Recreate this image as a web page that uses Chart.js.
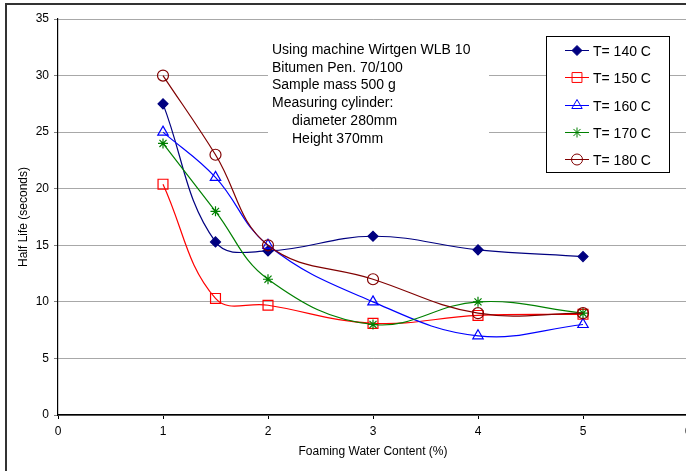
<!DOCTYPE html>
<html>
<head>
<meta charset="utf-8">
<script src="https://cdn.jsdelivr.net/npm/chart.js@4.4.1/dist/chart.umd.min.js"></script>
<style>
  html, body { margin: 0; padding: 0; background: #fff; overflow: hidden; }
  #wrap { position: relative; width: 686px; height: 471px; overflow: hidden; }
  #myChart { position: absolute; left: 0; top: 0; }
  #frame { position: absolute; left: 5px; top: 3px; width: 800px; height: 600px;
           border-left: 2px solid #333; border-top: 2px solid #333; pointer-events: none; }
</style>
</head>
<body>
<div id="wrap">
  <canvas id="myChart" width="720" height="471"></canvas>
  <div id="frame"></div>
</div>
<script>
// data
var waterContent = [1, 1.5, 2, 3, 4, 5];
var seriesNames = ['T= 140 C', 'T= 150 C', 'T= 160 C', 'T= 170 C', 'T= 180 C'];
var halfLife140 = [27.5, 15.3, 14.5, 15.8, 14.6, 14.0];
var halfLife150 = [20.4, 10.3, 9.7, 8.1, 8.8, 8.9];
var halfLife160 = [25, 21, 15, 10, 7, 8];
var halfLife170 = [24, 18, 12, 8, 10, 9];
var halfLife180 = [30, 23, 15, 12, 9, 9];
var xTicks = [0, 1, 2, 3, 4, 5, 6];
var yTicks = [0, 5, 10, 15, 20, 25, 30, 35];
var noteLines = ['Using machine Wirtgen WLB 10', 'Bitumen Pen. 70/100', 'Sample mass 500 g',
                 'Measuring cylinder:', '     diameter 280mm', '     Height 370mm'];

var FONT = '"Liberation Sans", Arial, sans-serif';
var colors = ['#000080', '#ff0000', '#0000ff', '#008000', '#800000'];
var styles = ['rectRot', 'rect', 'triangle', 'star', 'circle'];
var radii = [5, 7, 6, 5, 5.5];
var allValues = [halfLife140, halfLife150, halfLife160, halfLife170, halfLife180];

function toPoints(values) {
    var pts = [];
    for (var i = 0; i < values.length; ++i) {
        pts.push({ x: waterContent[i], y: values[i] });
    }
    return pts;
}

var datasets = [];
for (var s = 0; s < seriesNames.length; ++s) {
    datasets.push({
        label: seriesNames[s],
        data: toPoints(allValues[s]),
        borderColor: colors[s],
        backgroundColor: s === 0 ? colors[s] : 'rgba(0,0,0,0)',
        borderWidth: 1.2,
        pointStyle: styles[s],
        pointRadius: radii[s],
        pointBorderWidth: 1.2,
        pointBorderColor: colors[s],
        pointBackgroundColor: s === 0 ? colors[s] : 'rgba(0,0,0,0)',
        tension: 0.4,
        fill: false,
        order: seriesNames.length - s
    });
}

// white box behind the note text
var noteBox = {
    id: 'noteBox',
    beforeDatasetsDraw: function(chart) {
        var ctx = chart.ctx;
        ctx.save();
        ctx.fillStyle = '#fff';
        ctx.fillRect(268, 36, 221, 114);
        ctx.fillStyle = '#000';
        ctx.font = '14px ' + FONT;
        ctx.textBaseline = 'alphabetic';
        for (var i = 0; i < noteLines.length; ++i) {
            var txt = noteLines[i];
            var x = 272;
            if (txt.indexOf('     ') === 0) { x = 292; txt = txt.trim(); }
            ctx.fillText(txt, x, 54 + i * 17.7);
        }
        ctx.restore();
    }
};

// legend box inside the plot
var boxLegend = {
    id: 'boxLegend',
    afterDatasetsDraw: function(chart) {
        var ctx = chart.ctx;
        ctx.save();
        ctx.fillStyle = '#fff';
        ctx.fillRect(546.5, 36.5, 123, 136);
        ctx.strokeStyle = '#000';
        ctx.lineWidth = 1;
        ctx.strokeRect(546.5, 36.5, 123, 136);
        var ds = chart.data.datasets;
        for (var i = 0; i < ds.length; ++i) {
            var y = Math.round(50 + i * 27.3) + 0.5;
            ctx.strokeStyle = ds[i].borderColor;
            ctx.lineWidth = 1;
            ctx.beginPath();
            ctx.moveTo(565, y);
            ctx.lineTo(589, y);
            ctx.stroke();
            ctx.fillStyle = ds[i].pointBackgroundColor;
            Chart.helpers.drawPoint(ctx, {
                pointStyle: ds[i].pointStyle,
                radius: ds[i].pointRadius,
                rotation: 0,
                borderWidth: 1
            }, 577, y);
            ctx.fillStyle = '#000';
            ctx.font = '14px ' + FONT;
            ctx.textBaseline = 'alphabetic';
            ctx.fillText(ds[i].label, 593, y + 5);
        }
        ctx.restore();
    }
};

var ctx = document.getElementById('myChart');
var myChart = new Chart(ctx, {
    type: 'line',
    data: { datasets: datasets },
    options: {
        responsive: false,
        animation: false,
        devicePixelRatio: 1,
        layout: { padding: { top: 19, left: 0, right: 32, bottom: 0 } },
        plugins: {
            legend: { display: false },
            tooltip: { enabled: false }
        },
        scales: {
            x: {
                type: 'linear',
                min: 0,
                max: 6,
                afterFit: function(scale) { scale.height = 56; },
                afterBuildTicks: function(scale) {
                    scale.ticks = xTicks.map(function(v) { return { value: v }; });
                },
                grid: { drawOnChartArea: false, drawTicks: true, tickLength: 4, color: '#000' },
                border: { color: '#000', width: 1.5 },
                ticks: { color: '#000', padding: 5, font: { family: FONT, size: 12 } },
                title: {
                    display: true,
                    text: 'Foaming Water Content (%)',
                    color: '#000',
                    font: { family: FONT, size: 12 },
                    padding: { top: 0, bottom: 12 }
                }
            },
            y: {
                type: 'linear',
                min: 0,
                max: 35,
                afterFit: function(scale) { scale.width = 58; },
                afterBuildTicks: function(scale) {
                    scale.ticks = yTicks.map(function(v) { return { value: v }; });
                },
                grid: { color: '#a8a8a8', tickLength: 4, tickColor: '#808080' },
                border: { color: '#000', width: 1.2 },
                ticks: { color: '#000', padding: 5, font: { family: FONT, size: 12 } },
                title: {
                    display: true,
                    text: 'Half Life (seconds)',
                    color: '#000',
                    font: { family: FONT, size: 12 },
                    padding: { top: 16, bottom: 0 }
                }
            }
        }
    },
    plugins: [noteBox, boxLegend]
});
</script>
</body>
</html>
